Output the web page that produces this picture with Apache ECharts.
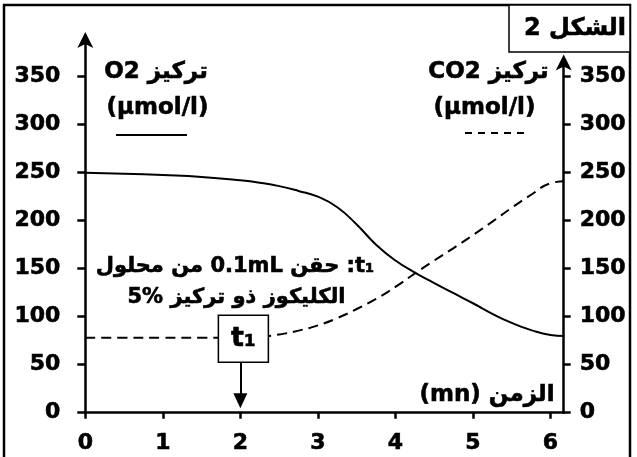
<!DOCTYPE html>
<html><head><meta charset="utf-8">
<script src="https://cdn.jsdelivr.net/npm/echarts@6/dist/echarts.min.js"></script>
<style>html,body{margin:0;padding:0;background:#fff}#c{width:637px;height:457px}</style>
</head><body><div id="c"></div>
<script>
// ---- data ----
const timeMin   = [0, 0.5, 1, 1.5, 2, 2.25, 2.5, 2.75, 3, 3.25, 3.5, 3.75, 4, 4.25, 4.5, 4.75, 5, 5.25, 5.5, 5.75, 6, 6.17];
const o2Values  = [250, 249, 247.5, 245.5, 242, 239.5, 236, 231, 225, 214, 196, 175, 158.5, 146, 135, 124.5, 114, 103, 93.5, 86, 81, 80];
const co2Values = [78, 78, 78, 78, 78, 79, 81.5, 85.5, 91, 98.5, 108, 118.5, 131, 145, 158.5, 171.5, 185, 199, 213.5, 227, 239, 241];
const xTicks = [0, 1, 2, 3, 4, 5, 6];
const yTicks = [0, 50, 100, 150, 200, 250, 300, 350];
const t1Time = 2;
const t1Level = 78;

const FONT = 'DejaVu Sans';

const o2Data = timeMin.map((t, i) => [t, o2Values[i]]);
const co2Data = timeMin.map((t, i) => [t, co2Values[i]]);

const labelStyle = { color: '#000', fontFamily: FONT, fontWeight: 'bold', fontSize: 22,
                     textBorderColor: '#000', textBorderWidth: 0.6 };
const axisLineStyle = { color: '#000', width: 2.5 };

// text built from runs laid out left-to-right (each run keeps its own script direction)
const measureCtx = document.createElement('canvas').getContext('2d');
function txt(runs, cx, cy, size) {
  const font = 'bold ' + size + 'px "' + FONT + '"';
  measureCtx.font = font;
  const widths = runs.map(r => measureCtx.measureText(r).width);
  const total = widths.reduce((a, b) => a + b, 0);
  let x = cx - total / 2;
  return runs.map((r, i) => {
    const el = { type: 'text', z: 21, x: x, y: cy,
      style: { text: r, font: font, textAlign: 'left', textVerticalAlign: 'middle',
               fill: '#000', stroke: '#000', lineWidth: 0.6 } };
    x += widths[i];
    return el;
  });
}

const chart = echarts.init(document.getElementById('c'), null, { renderer: 'canvas' });
chart.setOption({
  animation: false,
  backgroundColor: '#fff',
  grid: [
    { left: 85.3, right: 73.3, top: 40, bottom: 44.3 },
    { left: 85.3, right: 73.3, top: 62.5, bottom: 44.3 }
  ],
  xAxis: [
    { type: 'value', gridIndex: 0, min: 0, max: 6.17,
      axisLine: { show: true, lineStyle: axisLineStyle },
      axisTick: { show: true, length: 6, lineStyle: axisLineStyle, customValues: xTicks },
      axisLabel: Object.assign({ margin: 20, customValues: xTicks }, labelStyle),
      splitLine: { show: false } },
    { type: 'value', gridIndex: 1, min: 0, max: 6.17, show: false }
  ],
  yAxis: [
    { type: 'value', gridIndex: 0, position: 'left', min: 0, max: 388.2,
      axisLine: { show: true, onZero: false, lineStyle: axisLineStyle, symbol: ['none', 'arrow'], symbolSize: [12, 16], symbolOffset: [0, 8] },
      axisTick: { show: true, length: 8, lineStyle: axisLineStyle, customValues: yTicks },
      axisLabel: Object.assign({ margin: 25, customValues: yTicks }, labelStyle),
      splitLine: { show: false } },
    { type: 'value', gridIndex: 1, position: 'right', min: 0, max: 364.8,
      axisLine: { show: true, onZero: false, lineStyle: axisLineStyle, symbol: ['none', 'arrow'], symbolSize: [12, 16], symbolOffset: [0, 8] },
      axisTick: { show: true, length: 7, lineStyle: axisLineStyle, customValues: yTicks },
      axisLabel: Object.assign({ margin: 16, customValues: yTicks }, labelStyle),
      splitLine: { show: false } }
  ],
  series: [
    { name: 'O2', type: 'line', xAxisIndex: 0, yAxisIndex: 0, data: o2Data,
      showSymbol: false, smooth: 0.5,
      lineStyle: { color: '#000', width: 2 }, silent: true, z: 2 },
    { name: 'CO2', type: 'line', xAxisIndex: 0, yAxisIndex: 0, data: co2Data,
      showSymbol: false, smooth: 0.5,
      lineStyle: { color: '#000', width: 2, type: [10, 6] }, silent: true, z: 3,
      markLine: {
        silent: true, symbol: ['none', 'triangle'], symbolSize: [14, 15],
        lineStyle: { color: '#000', width: 2, type: 'solid' },
        label: { show: false },
        data: [[{ coord: [t1Time, 52] }, { coord: [t1Time, 12.5] }]]
      },
      markPoint: {
        silent: true, symbol: 'rect', symbolSize: [50, 47], symbolOffset: [3, 1],
        itemStyle: { color: '#fff', borderColor: '#000', borderWidth: 1.5 },
        label: { show: true, position: 'inside', formatter: 't\u2081', color: '#000',
                 fontFamily: FONT, fontWeight: 'bold', fontSize: 27,
                 textBorderColor: '#000', textBorderWidth: 0.6 },
        data: [{ coord: [t1Time, t1Level] }]
      }
    }
  ],
  graphic: [
    { type: 'rect', z: 20, shape: { x: 4, y: 5, width: 626, height: 470 },
      style: { fill: 'none', stroke: '#000', lineWidth: 2.5 } },
    { type: 'rect', z: 20, shape: { x: 509, y: 5, width: 121, height: 47 },
      style: { fill: '#fff', stroke: '#000', lineWidth: 1.5 } },
    { type: 'line', z: 21, shape: { x1: 116, y1: 135, x2: 187, y2: 135 },
      style: { stroke: '#000', lineWidth: 2 } },
    { type: 'line', z: 21, shape: { x1: 465, y1: 133, x2: 530, y2: 133 },
      style: { stroke: '#000', lineWidth: 2, lineDash: [7, 6] } }
  ].concat(
    txt(['2 ', 'الشكل'], 575, 29, 24),
    txt(['O2 ', 'تركيز'], 156, 72, 23),
    txt(['(µmol/l)'], 157.5, 108.5, 23),
    txt(['CO2 ', 'تركيز'], 488.5, 72, 23),
    txt(['(µmol/l)'], 484.5, 108.5, 23),
    txt(['من محلول', ' 0.1mL ', 'حقن', ' :t\u2081'], 235, 267, 21),
    txt(['5% ', 'الكليكوز ذو تركيز'], 236.5, 297.5, 21),
    txt(['(mn) ', 'الزمن'], 487, 395, 23)
  )
});
</script>
</body></html>
